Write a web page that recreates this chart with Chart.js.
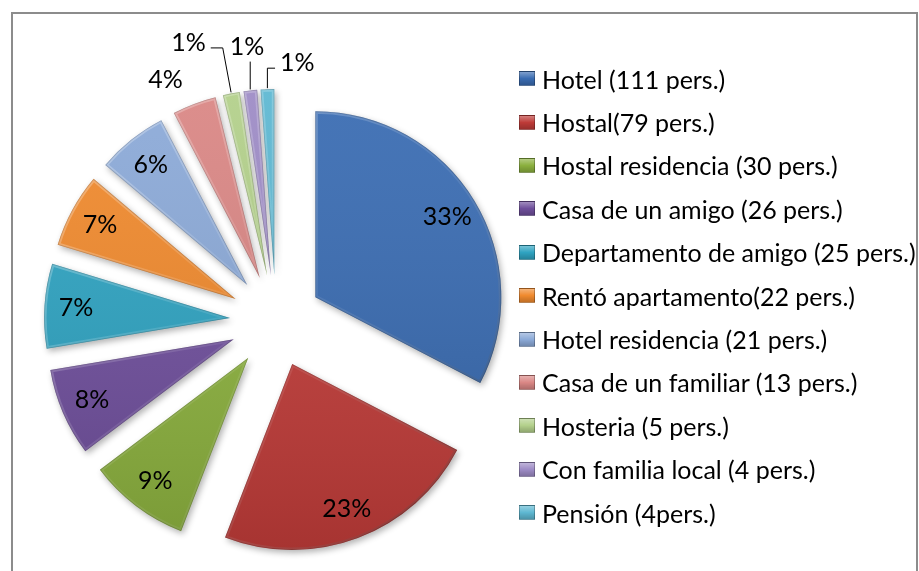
<!DOCTYPE html>
<html>
<head>
<meta charset="utf-8">
<script src="https://cdn.jsdelivr.net/npm/chart.js@4.4.1/dist/chart.umd.min.js"></script>
<style>
  html, body { margin: 0; padding: 0; background: #fff; }
  #wrap { position: relative; width: 919px; height: 571px; overflow: hidden; }
  #frame { position: absolute; left: 11px; top: 12px; width: 907px; height: 620px; border: 2px solid #8c8c8c; box-sizing: border-box; }
  #myChart { position: absolute; left: 0; top: 0; }
  #legend { position: absolute; left: 519px; top: 57px; font-family: Lato, "Open Sans", sans-serif; font-size: 25px; color: #000; }
  .item { height: 43.4px; display: flex; align-items: center; white-space: nowrap; }
  .box { width: 16px; height: 15px; margin-right: 7px; box-sizing: border-box; border: 1px solid rgba(0,0,0,0.25); }
</style>
</head>
<body>
<div id="wrap">
  <div id="frame"></div>
  <canvas id="myChart" width="919" height="571"></canvas>
  <div id="legend"></div>
</div>
<script>
// Datos
const labels = [
    'Hotel (111 pers.)',
    'Hostal(79 pers.)',
    'Hostal residencia (30 pers.)',
    'Casa de un amigo (26 pers.)',
    'Departamento de amigo (25 pers.)',
    'Rentó apartamento(22 pers.)',
    'Hotel residencia (21 pers.)',
    'Casa de un familiar (13 pers.)',
    'Hosteria (5 pers.)',
    'Con familia local (4 pers.)',
    'Pensión (4pers.)'
];
const persons = [111, 79, 30, 26, 25, 22, 21, 13, 5, 4, 4];
const pctLabels = ['33%', '23%', '9%', '8%', '7%', '7%', '6%', '4%', '1%', '1%', '1%'];

const colors = [
    '#3A6CB2', '#BE3B38', '#8BB03E', '#6F4F9C', '#2FA3C1', '#F08A2E',
    '#8CAAD8', '#DA8785', '#B3D08B', '#9E8CC6', '#5EB8D2'
];

// Estilo
const EXPLODE = 46;
const FONT = '25px Lato, "Open Sans", sans-serif';
// small labels are pushed around a bit, like Excel does
const labelNudge = { 7: [-18, 4], 8: [-37, -21], 9: [0, -14], 10: [31, 4] };
const leaderLines = [8, 9, 10];

// separate the slices from the centre
const explodePlugin = {
    id: 'explode',
    afterUpdate(chart) {
        chart.getDatasetMeta(0).data.forEach(arc => {
            const mid = (arc.startAngle + arc.endAngle) / 2;
            arc.x += Math.cos(mid) * EXPLODE;
            arc.y += Math.sin(mid) * EXPLODE;
        });
    }
};

function slicePath(ctx, arc) {
    ctx.beginPath();
    ctx.moveTo(arc.x, arc.y);
    ctx.arc(arc.x, arc.y, arc.outerRadius, arc.startAngle, arc.endAngle);
    ctx.closePath();
}

// shadow + bevel look
const bevelPlugin = {
    id: 'bevel',
    beforeDatasetsDraw(chart) {
        const ctx = chart.ctx;
        ctx.save();
        ctx.shadowColor = 'rgba(0,0,0,0.3)';
        ctx.shadowBlur = 6;
        ctx.shadowOffsetX = 2;
        ctx.shadowOffsetY = 3;
    },
    afterDatasetsDraw(chart) {
        const ctx = chart.ctx;
        ctx.restore();
        chart.getDatasetMeta(0).data.forEach(arc => {
            const r = arc.outerRadius;
            ctx.save();
            slicePath(ctx, arc);
            ctx.clip();

            const g = ctx.createLinearGradient(0, arc.y - r, 0, arc.y + r);
            g.addColorStop(0, 'rgba(255,255,255,0.06)');
            g.addColorStop(1, 'rgba(0,0,0,0.12)');
            ctx.fillStyle = g;
            ctx.fill();

            const e = ctx.createLinearGradient(arc.x - r, arc.y - r, arc.x + r, arc.y + r);
            e.addColorStop(0, 'rgba(255,255,255,0.35)');
            e.addColorStop(0.5, 'rgba(255,255,255,0.08)');
            e.addColorStop(1, 'rgba(0,0,0,0.3)');
            slicePath(ctx, arc);
            ctx.lineWidth = 5;
            ctx.lineJoin = 'round';
            ctx.strokeStyle = e;
            ctx.stroke();
            ctx.lineWidth = 1.5;
            ctx.strokeStyle = 'rgba(0,0,0,0.18)';
            ctx.stroke();
            ctx.restore();
        });
    }
};

// percentage labels
const labelPlugin = {
    id: 'pctLabels',
    afterDatasetsDraw(chart) {
        const ctx = chart.ctx;
        const total = persons.reduce((a, b) => a + b, 0);
        ctx.save();
        ctx.font = FONT;
        ctx.fillStyle = '#000';
        ctx.strokeStyle = '#000';
        ctx.lineWidth = 1;
        ctx.textAlign = 'center';
        ctx.textBaseline = 'middle';
        chart.getDatasetMeta(0).data.forEach((arc, i) => {
            const mid = (arc.startAngle + arc.endAngle) / 2;
            const dx = Math.cos(mid), dy = Math.sin(mid);
            const r = arc.outerRadius;
            let x, y;
            if (persons[i] / total >= 0.05) {
                x = arc.x + dx * r * 0.83;
                y = arc.y + dy * r * 0.83;
            } else {
                const n = labelNudge[i] || [0, 0];
                x = arc.x + dx * (r + 30) + n[0];
                y = arc.y + dy * (r + 30) + n[1];
                if (leaderLines.includes(i)) {
                    const tx = arc.x + dx * (r + 1), ty = arc.y + dy * (r + 1);
                    const w = ctx.measureText(pctLabels[i]).width;
                    ctx.beginPath();
                    if (Math.abs(tx - x) < w / 2) {
                        ctx.moveTo(tx, y + 15);
                        ctx.lineTo(tx, ty);
                    } else {
                        const side = Math.sign(tx - x);
                        const sx = x + side * (w / 2 + 5), sy = y + 5;
                        let ex = sx + side * 12;
                        if ((ex - tx) * side > 0) ex = tx;
                        ctx.moveTo(sx, sy);
                        ctx.lineTo(ex, sy);
                        ctx.lineTo(tx, ty);
                    }
                    ctx.stroke();
                }
            }
            ctx.fillText(pctLabels[i], x, y);
        });
        ctx.restore();
    }
};

const dataPie = {
    labels: labels,
    datasets: [{
        data: persons,
        backgroundColor: colors,
        borderWidth: 0,
        radius: 186
    }]
};

const configPie = {
    type: 'pie',
    data: dataPie,
    options: {
        responsive: false,
        animation: false,
        events: [],
        layout: { padding: { left: 0, right: 367, top: 71, bottom: 0 } },
        plugins: {
            legend: { display: false },
            tooltip: { enabled: false }
        }
    },
    plugins: [explodePlugin, bevelPlugin, labelPlugin]
};

const myChart = new Chart(document.querySelector('#myChart'), configPie);

// legend (html)
const legendEl = document.querySelector('#legend');
labels.forEach((text, i) => {
    const item = document.createElement('div');
    item.className = 'item';
    const box = document.createElement('span');
    box.className = 'box';
    box.style.background = 'linear-gradient(to bottom, rgba(255,255,255,0.35), rgba(255,255,255,0) 50%, rgba(0,0,0,0.2)), ' + colors[i];
    item.appendChild(box);
    item.appendChild(document.createTextNode(text));
    legendEl.appendChild(item);
});
</script>
</body>
</html>
